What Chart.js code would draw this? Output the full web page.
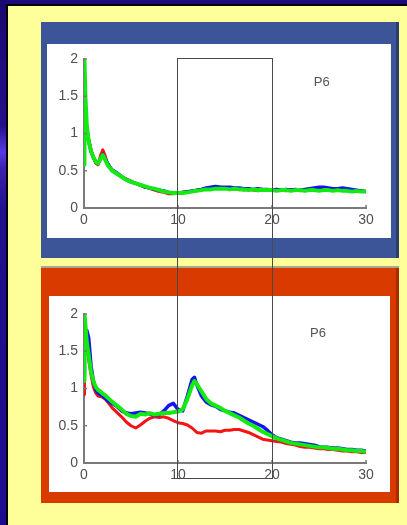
<!DOCTYPE html>
<html>
<head>
<meta charset="utf-8">
<script src="https://cdn.jsdelivr.net/npm/chart.js@4"></script>
<style>
  html, body { margin: 0; padding: 0; }
  body { width: 407px; height: 525px; background: #1c0a7c; position: relative; overflow: hidden; }
  #strip { position: absolute; left: 0; top: 0; width: 6px; height: 525px;
    background: linear-gradient(to bottom, #1a0870 0%, #24108a 24%, #5a3ae6 29%, #3a22b0 32%, #22108c 40%, #1e0c90 100%); }
  #sheet { position: absolute; left: 6px; top: 4px; right: 0; bottom: 0; background: #ffff99;
    border-left: 2px solid #000; border-top: 2px solid #000; }
  .panel { position: absolute; }
  #topPanel { left: 41px; top: 22px; width: 355px; height: 236px; background: #3c5598; border-right: 3px solid #2b3d70; }
  #botPanel { left: 41px; top: 268px; width: 355px; height: 235px; background: #d83a00; border-right: 3px solid #a82c00;
    box-shadow: 0 -2px 0 #a8a890; }
  .plot { position: absolute; background: #fff; }
  #topPlot { left: 47px; top: 44px; width: 344px; height: 194px; }
  #botPlot { left: 49px; top: 296px; width: 341px; height: 196px; }
  #zoomBox { position: absolute; top: 58px; height: 421px; border: 1.5px solid #4a4a4a; box-sizing: border-box; }
</style>
</head>
<body>
<div id="strip"></div>
<div id="sheet"></div>
<div class="panel" id="topPanel"></div>
<div class="panel" id="botPanel"></div>
<div class="plot" id="topPlot"><canvas id="topChart"></canvas></div>
<div class="plot" id="botPlot"><canvas id="botChart"></canvas></div>
<div id="zoomBox"></div>
<script>
// frequency axis (shared by both plots)
const xs = [0, 0.05, 0.15, 0.3, 0.5, 0.75, 1, 1.25, 1.5, 1.75, 2, 2.25, 2.5, 2.75,
  3, 3.5, 4, 4.5, 5, 5.5, 6, 6.5, 7, 7.5, 8, 8.5, 9, 9.5, 10, 10.5, 11, 11.5, 11.75, 12, 12.5,
  13, 13.5, 14, 14.5, 15, 15.5, 16, 16.5, 17, 17.5, 18, 18.5, 19, 19.5, 20, 20.5,
  21, 21.5, 22, 22.5, 23, 23.5, 24, 24.5, 25, 25.5, 26, 26.5, 27, 27.5, 28, 28.5, 29, 29.5, 30];

// upper plot
const topGreen = [0.58, 2.0, 1.5, 1.1, 0.9, 0.76, 0.68, 0.62, 0.6, 0.66, 0.71, 0.65, 0.58, 0.54,
  0.5, 0.46, 0.42, 0.38, 0.35, 0.33, 0.31, 0.29, 0.27, 0.26, 0.24, 0.22, 0.21, 0.2, 0.2, 0.2, 0.21, 0.22, 0.23, 0.23, 0.24,
  0.25, 0.25, 0.26, 0.26, 0.26, 0.25, 0.26, 0.25, 0.25, 0.24, 0.25, 0.24, 0.24, 0.24, 0.24, 0.23,
  0.24, 0.24, 0.23, 0.24, 0.24, 0.23, 0.24, 0.24, 0.23, 0.24, 0.24, 0.23, 0.24, 0.23, 0.23, 0.22, 0.23, 0.22, 0.22];
const topBlue = [0.9, 1.3, 1.2, 1.05, 0.9, 0.76, 0.68, 0.62, 0.6, 0.66, 0.72, 0.66, 0.6, 0.55,
  0.51, 0.47, 0.42, 0.38, 0.35, 0.33, 0.31, 0.28, 0.27, 0.25, 0.24, 0.23, 0.21, 0.2, 0.2, 0.21, 0.22, 0.23, 0.23, 0.24, 0.25,
  0.27, 0.28, 0.29, 0.28, 0.28, 0.28, 0.27, 0.27, 0.26, 0.26, 0.25, 0.26, 0.25, 0.25, 0.24, 0.25,
  0.24, 0.25, 0.24, 0.25, 0.24, 0.25, 0.26, 0.27, 0.28, 0.28, 0.27, 0.26, 0.26, 0.27, 0.26, 0.25, 0.24, 0.23, 0.22];
const topRed = [0.95, 1.32, 1.25, 1.08, 0.92, 0.78, 0.68, 0.6, 0.58, 0.7, 0.78, 0.7, 0.6, 0.55,
  0.5, 0.46, 0.42, 0.39, 0.36, 0.33, 0.3, 0.28, 0.26, 0.24, 0.22, 0.21, 0.19, 0.19, 0.2, 0.21, 0.22, 0.22, 0.23, 0.24, 0.25,
  0.26, 0.27, 0.28, 0.28, 0.27, 0.26, 0.25, 0.26, 0.24, 0.25, 0.24, 0.23, 0.25, 0.24, 0.25, 0.24,
  0.24, 0.23, 0.25, 0.24, 0.23, 0.24, 0.25, 0.26, 0.26, 0.27, 0.26, 0.25, 0.24, 0.25, 0.24, 0.24, 0.23, 0.23, 0.22];

// lower plot
const botGreen = [1.1, 2.0, 1.85, 1.62, 1.45, 1.22, 1.1, 1.02, 0.98, 0.96, 0.93, 0.91, 0.88, 0.85,
  0.82, 0.77, 0.72, 0.66, 0.63, 0.62, 0.66, 0.65, 0.67, 0.65, 0.66, 0.67, 0.67, 0.68, 0.69, 0.72, 0.86, 1.04, 1.1, 1.06, 0.96,
  0.86, 0.8, 0.77, 0.74, 0.7, 0.67, 0.64, 0.61, 0.57, 0.53, 0.5, 0.46, 0.42, 0.39, 0.36, 0.33,
  0.31, 0.29, 0.27, 0.26, 0.25, 0.24, 0.23, 0.22, 0.21, 0.21, 0.2, 0.19, 0.19, 0.18, 0.17, 0.17, 0.16, 0.16, 0.15];
const botBlue = [1.2, 1.5, 1.7, 1.78, 1.68, 1.3, 1.1, 0.98, 0.94, 0.92, 0.9, 0.87, 0.84, 0.82,
  0.8, 0.76, 0.7, 0.67, 0.66, 0.67, 0.68, 0.67, 0.66, 0.64, 0.65, 0.7, 0.77, 0.8, 0.72, 0.7, 0.9, 1.12, 1.15, 1.05, 0.9,
  0.82, 0.78, 0.76, 0.72, 0.7, 0.68, 0.67, 0.64, 0.61, 0.58, 0.55, 0.52, 0.49, 0.44, 0.38, 0.34,
  0.32, 0.3, 0.28, 0.27, 0.27, 0.26, 0.25, 0.24, 0.22, 0.21, 0.21, 0.2, 0.2, 0.19, 0.18, 0.18, 0.17, 0.17, 0.16];
const botRed = [0.92, 1.4, 1.7, 1.6, 1.38, 1.18, 1.02, 0.94, 0.9, 0.89, 0.88, 0.86, 0.82, 0.78,
  0.74, 0.68, 0.62, 0.55, 0.5, 0.47, 0.51, 0.56, 0.6, 0.62, 0.61, 0.62, 0.6, 0.57, 0.54, 0.53, 0.51, 0.47, 0.44, 0.41, 0.4,
  0.43, 0.43, 0.43, 0.42, 0.44, 0.44, 0.45, 0.45, 0.43, 0.41, 0.38, 0.35, 0.32, 0.31, 0.3, 0.29,
  0.28, 0.26, 0.25, 0.24, 0.22, 0.21, 0.21, 0.2, 0.19, 0.19, 0.18, 0.18, 0.17, 0.16, 0.16, 0.15, 0.15, 0.14, 0.14];

const tickFont = { family: '"Liberation Sans", Arial, sans-serif', size: 14 };
const axisGray = '#7a7a7a';

function points(vals) {
  return xs.map((x, i) => ({ x: x, y: vals[i] }));
}

// short inward tick marks and the "P6" tag, matlab style
const extras = {
  id: 'extras',
  afterDraw(chart, args, opts) {
    const ctx = chart.ctx;
    const xScale = chart.scales.x, yScale = chart.scales.y;
    const left = chart.chartArea.left, bottom = chart.chartArea.bottom;
    ctx.save();
    ctx.strokeStyle = axisGray;
    ctx.lineWidth = 1.5;
    ctx.beginPath();
    yScale.ticks.forEach(t => {
      const py = yScale.getPixelForValue(t.value);
      ctx.moveTo(left, py);
      ctx.lineTo(left + 3, py);
    });
    xScale.ticks.forEach(t => {
      const px = xScale.getPixelForValue(t.value);
      ctx.moveTo(px, bottom);
      ctx.lineTo(px, bottom - 3);
    });
    ctx.stroke();
    ctx.fillStyle = '#555';
    ctx.font = '13px "Liberation Sans", Arial, sans-serif';
    ctx.textAlign = 'center';
    ctx.textBaseline = 'middle';
    ctx.fillText(opts.text, xScale.getPixelForValue(opts.x), yScale.getPixelForValue(opts.y));
    ctx.restore();
  }
};

function createChart(elementId, green, blue, red, padding, yWidth, xHeight, tag) {
  return new Chart(document.getElementById(elementId), {
    type: 'line',
    data: {
      datasets: [
        { label: 'green', data: points(green), borderColor: '#12ea12', borderWidth: 4 },
        { label: 'blue', data: points(blue), borderColor: '#1414f0', borderWidth: 3.5 },
        { label: 'red', data: points(red), borderColor: '#f41414', borderWidth: 3 }
      ]
    },
    options: {
      responsive: true,
      maintainAspectRatio: false,
      animation: false,
      events: [],
      layout: { padding: padding },
      elements: { point: { radius: 0 }, line: { tension: 0, borderJoinStyle: 'round' } },
      plugins: { legend: { display: false }, tooltip: { enabled: false }, extras: tag },
      scales: {
        x: {
          type: 'linear', min: 0, max: 30,
          grid: { display: false, drawTicks: false },
          border: { display: true, color: axisGray, width: 2 },
          ticks: { stepSize: 10, font: tickFont, color: '#505050', padding: 4, maxRotation: 0 },
          afterFit: s => { s.height = xHeight; }
        },
        y: {
          min: 0, max: 2,
          grid: { display: false, drawTicks: false },
          border: { display: true, color: axisGray, width: 2 },
          ticks: { stepSize: 0.5, font: tickFont, color: '#505050', padding: 6, callback: v => String(v) },
          afterFit: s => { s.width = yWidth; }
        }
      }
    },
    plugins: [extras]
  });
}

const topChart = createChart('topChart', topGreen, topBlue, topRed,
  { left: 0, right: 25, top: 15, bottom: 0 }, 37, 30, { text: 'P6', x: 25.3, y: 1.68 });
const botChart = createChart('botChart', botGreen, botBlue, botRed,
  { left: 0, right: 24, top: 18, bottom: 0 }, 35, 29, { text: 'P6', x: 24.9, y: 1.74 });

// box marking the 10-20 band across both plots
const box = document.getElementById('zoomBox');
const plotLeft = document.getElementById('topPlot').offsetLeft;
const x10 = topChart.scales.x.getPixelForValue(10);
const x20 = topChart.scales.x.getPixelForValue(20);
box.style.left = (plotLeft + x10 - 1) + 'px';
box.style.width = (x20 - x10 + 2) + 'px';
</script>
</body>
</html>
